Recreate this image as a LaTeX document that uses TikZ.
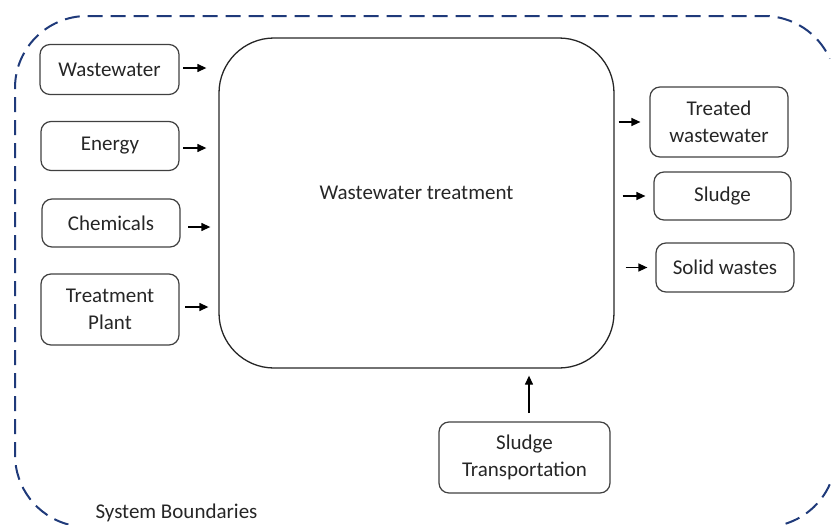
\documentclass[tikz,border=0pt]{standalone}
\usepackage{fontspec}
\setmainfont{Carlito}
\usetikzlibrary{arrows.meta}
\definecolor{bnd}{HTML}{1F3A7A}
\definecolor{txt}{HTML}{262626}
\definecolor{edge}{HTML}{404040}
\tikzset{
  box/.style={draw=edge, line width=1.2pt, rounded corners=10pt, align=center,
    inner sep=0pt, text=txt, font=\fontsize{21}{27.5}\selectfont},
  mainbox/.style={draw=black!85, line width=1.3pt, rounded corners=55pt, inner sep=0pt},
  flow/.style={-{Triangle[length=9pt,width=8pt]}, line width=1.3pt, black},
  boundary/.style={draw=bnd, line width=2pt, dash pattern=on 15pt off 8pt},
  lbl/.style={text=txt, font=\fontsize{21}{27.5}\selectfont, inner sep=0pt}
}
\begin{document}
\begin{tikzpicture}[x=1pt,y=-1pt]
\useasboundingbox (0,0) rectangle (831,525);
\draw[boundary] (68.4,524.5) arc[start angle=255, end angle=180, radius=72pt]
  -- (15,88) arc[start angle=180, end angle=90, radius=72pt]
  -- (764,16) arc[start angle=90, end angle=24, radius=72pt]
  (829.8,484.3) arc[start angle=-24, end angle=-75, radius=72pt];
\node[mainbox, minimum width=395pt, minimum height=330pt] (main) at (416.5,203) {};
\node[lbl] (maintitle) at (416.5,193) {Wastewater treatment};
\node[box, minimum width=139pt, minimum height=50pt] (ww) at (109.5,69.5) {Wastewater};
\node[box, minimum width=138pt, minimum height=49pt] (en) at (110,146) {Energy};
\node[box, minimum width=138pt, minimum height=48pt] (ch) at (111,223) {Chemicals};
\node[box, minimum width=138pt, minimum height=71pt] (tp) at (110,309.5) {Treatment\\Plant};
\node[box, minimum width=138pt, minimum height=70pt] (tw) at (719,122) {Treated\\wastewater};
\node[box, minimum width=137pt, minimum height=48pt] (sl) at (722.5,196) {Sludge};
\node[box, minimum width=138pt, minimum height=49pt] (sw) at (725,267.5) {Solid wastes};
\node[box, minimum width=171pt, minimum height=71pt] (st) at (524.5,457.5) {Sludge\\Transportation};
\node[lbl] (sysb) at (176.5,513) {System Boundaries};
\coordinate (wwa) at (179,68);
\coordinate (ena) at (179,148);
\coordinate (cha) at (180,227);
\coordinate (tpa) at (179,307);
\draw[flow, shorten <=4pt, shorten >=12pt] (wwa) -- (main.west |- wwa);
\draw[flow, shorten <=4pt, shorten >=12pt] (ena) -- (main.west |- ena);
\draw[flow, shorten <=8pt, shorten >=8pt] (cha) -- (main.west |- cha);
\draw[flow, shorten <=6pt, shorten >=10pt] (tpa) -- (main.west |- tpa);
\draw[flow, shorten <=4pt, shorten >=9pt] (main.east |- tw.west) -- (tw.west);
\draw[flow, shorten <=8pt, shorten >=8pt] (main.east |- sl.west) -- (sl.west);
\draw[flow, shorten <=11pt, shorten >=8pt] (main.east |- sw.west) -- (sw.west);
\coordinate (sta) at (529,422);
\draw[flow, shorten <=9pt, shorten >=7pt] (sta) -- (main.south -| sta);
\end{tikzpicture}
\end{document}
